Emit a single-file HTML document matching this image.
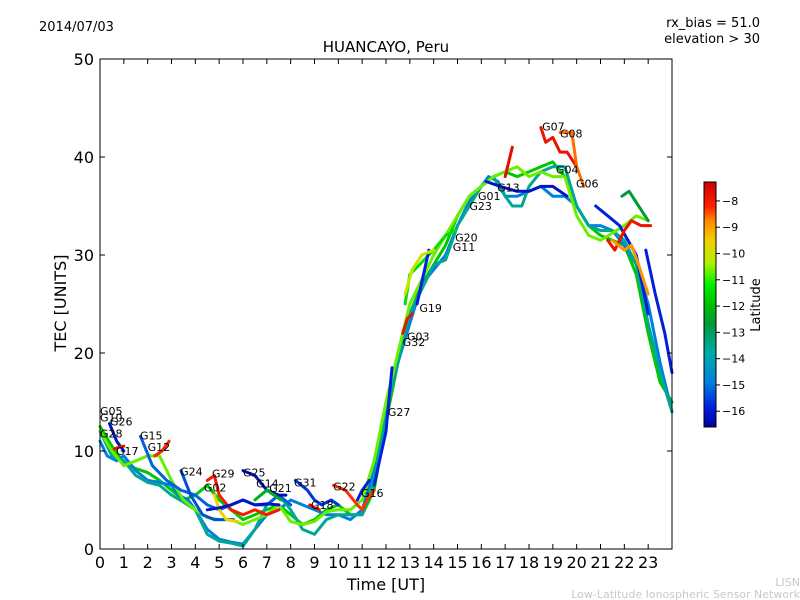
<!DOCTYPE html>
<html><head><meta charset="utf-8"><style>
body{margin:0;background:#fff;}
svg{display:block;font-family:"DejaVu Sans","Liberation Sans",sans-serif;}
</style></head><body>
<svg id="chart" width="800" height="600" viewBox="0 0 800 600">
<rect width="800" height="600" fill="#fff"/>
<text x="39" y="31" font-size="13">2014/07/03</text>
<text x="760" y="27" font-size="13" text-anchor="end">rx_bias = 51.0</text>
<text x="760" y="43" font-size="13" text-anchor="end">elevation &gt; 30</text>
<text x="386" y="52" font-size="15" text-anchor="middle">HUANCAYO, Peru</text>
<g id="plot"></g>
<g id="axes"></g>
<text x="66" y="303" font-size="16" text-anchor="middle" transform="rotate(-90 66 303)">TEC [UNITS]</text>
<text x="386" y="590" font-size="16" text-anchor="middle">Time [UT]</text>
<defs><linearGradient id="cb" x1="0" y1="0" x2="0" y2="1">
<stop offset="0" stop-color="#cc0000"/><stop offset="0.1" stop-color="#ff2000"/><stop offset="0.16" stop-color="#ff8c00"/><stop offset="0.24" stop-color="#f0d000"/><stop offset="0.33" stop-color="#b0f000"/><stop offset="0.42" stop-color="#00ee00"/><stop offset="0.5" stop-color="#00c000"/><stop offset="0.58" stop-color="#009a3a"/><stop offset="0.7" stop-color="#00aaaa"/><stop offset="0.82" stop-color="#0080dd"/><stop offset="0.92" stop-color="#0020dd"/><stop offset="1" stop-color="#000099"/>
</linearGradient></defs>
<rect x="704" y="182" width="12" height="245" fill="url(#cb)" stroke="#000" stroke-width="1"/>
<g id="cbticks"></g>
<text x="760" y="305" font-size="13" text-anchor="middle" transform="rotate(-90 760 305)">Latitude</text>
<text x="800" y="586" font-size="11" fill="#c8c8c8" text-anchor="end">LISN</text>
<text x="800" y="598" font-size="11" fill="#c8c8c8" text-anchor="end">Low-Latitude Ionospheric Sensor Network</text>
</svg>
<script>
const seriesLat=[-12,-15,-13.8,-11,-16.2,-8,-15.3,-8.5,-15.5,-8.3,-10,-16.3,-16.2,-15.8,-8,-8.6,-16,-16,-11.5,-16,-8,-7.8,-8,-9,-16.2,-16,-16,-13,-8,-9.3,-12.5,-10.5];
const seriesHours=[
[0,0.5,1,1.5,2,2.5,3,3.5,4,4.5,5,5.5,6,6.5,7,7.5,8,8.5,9,9.5,10,10.5,11,11.5,12,12.5,13,13.5,14,14.5,15,15.5,16,16.5,17,17.5,18,18.5,19,19.5,20,20.5,21,21.5,22,22.5,23,23.5,24],
[0,0.3,0.7,1,1.5,2,2.5,3,3.3,3.7,4,4.5,5,5.5,6,6.5,7,7.5,8,8.5,9,9.5,10,10.5,11,11.5,12,12.5,13,13.5,14,14.5,15,15.5,16,16.3,16.7,17,17.5,18,18.5,19,19.5,20,20.5,21,21.5,22,22.5,23,23.5,24],
[0,0.5,1,1.5,2,2.5,3,3.5,4,4.5,5,5.5,6,6.5,7,7.5,8,8.5,9,9.5,10,10.5,11,11.5,12,13,14,14.5,15,16,16.5,17,17.3,17.7,18,18.5,19,19.5,20,20.5,21,21.5,22,22.5,23,23.5,24],
[0,0.5,1,1.5,2,2.5,3,3.5,4,4.5,5,5.5,6,6.5,7,7.5,8,8.5,9,9.5,10,10.5,11,11.5,12,13,13.5,14,15,15.5,16,16.5,17,17.5,18,18.5,19,19.5,20,20.5,21,22,22.5,23],
[0.4,0.7,1],
[0.6,0.8,1],
[1.7,2.2,2.8,3.4,4,4.5,5,5.5,6,6.5,7,7.5,8],
[2.3,2.6,2.9],
[3.4,3.8,4.3,4.8,5.2,5.6],
[4.5,4.8,5,5.5,6,6.5,7,7.5],
[4.8,5,5.3,5.8],
[6,6.5,7,7.5,7.8],
[4.5,5,5.5,6,6.5,7,7.5],
[8.2,8.7,9,9.3,9.7,10],
[8.8,9.2],
[9.8,10.3,10.8,11,11.2,11.5],
[10.8,11,11.3],
[11.5,12,12.25],
[12.8,13,13.4,13.8,14,14.5,14.9],
[13.3,13.8],
[12.7,12.9,13.1],
[17,17.3],
[18.5,18.7,19,19.3,19.6,20],
[19.3,19.8,20,20.3],
[16.2,16.8,17.5,18,18.5,19,19.6],
[20.8,21.3,21.8,22.5,23],
[22.9,23.3,23.7,24],
[21.9,22.2,22.6,23],
[21.3,21.6,22,22.3,22.7,23.1],
[21.5,22,22.3,22.6,23],
[6.5,7,7.3,7.6],
[12.8,13.1,13.5,14]
];
const seriesTec=[
[12.5,10.5,8.8,8.2,7.8,7,6,5,5.5,6.5,5,4,3,3.5,4,4.5,3.5,2.5,3,4,4.5,3.5,3.5,6,13,19,24,27,29,31,34,36,37,38,38.5,38,38.5,39,39.5,38,35,33,32,31.5,31,28,22,17,15],
[11,9.5,9,9.5,8,7,6.8,6.5,5.5,5,4,2,1,0.7,0.5,2,3.5,4,5,4.5,4,3.5,3.5,3,4,8,14,19,23,27,28.5,30,33,35.5,37,38,37.5,36,36,36.5,37,36,36,35,33,33,32.5,31,29,25,19,14],
[12,9.5,9,7.5,6.8,6.5,5.5,4.8,4,1.5,0.8,0.6,0.3,2,4.5,5.5,4,2,1.5,3,3.5,3.5,3.5,7,14,24,29,29.5,33,37,38,36,35,35,37,38.5,39,39,35,33,32.5,32.5,31.5,29,23,18,14],
[12,10,8.5,9,9.5,9.5,7,5,4,3.2,3,3,2.5,3,3.5,4.5,2.8,2.5,2.8,3.8,4,4,5,9,15,25,27.5,30,34,36,37,38,38.5,39,38,38.5,38,38,34,32,31.5,33,34,33.5],
[12.8,11,10],
[10.2,10.4,10.5],
[11.5,8.5,7,6,5.5,4.5,4,4.5,5,4.5,4.5,5.5,4.5],
[9.5,10,11],
[8,5.5,3.5,3,3,3],
[7,7.5,5.5,4,3.5,4,3.5,4],
[5.5,4,3,2.8],
[8,7.5,6,5.5,5.5],
[4,4.2,4.5,5,4.5,4.6,4.5],
[7,6,5,4.5,5,4.5],
[4.5,4],
[6.5,6,4.5,4,5,6],
[5,6,7],
[6.5,12,18.5],
[25,28,29,30,30.5,32,32.5],
[25,30.5],
[22,23.5,24],
[38,41],
[43,41.5,42,40.5,40.5,39],
[42.5,42.5,39,37],
[37.5,37,36.5,36.5,37,37,36],
[35,34,33,30,24],
[30.5,26,22,18],
[36,36.5,35,33.5],
[31.5,30.5,32.5,33.5,33,33],
[31.5,30.5,31,29,26],
[5,6,5.5,5],
[26,28.5,30,30.5]
];
const labelNames=["G05","G10","G26","G28","G17","G15","G12","G24","G29","G02","G25","G14","G21","G31","G18","G22","G16","G27","G32","G03","G19","G11","G20","G23","G01","G13","G07","G08","G04","G06"];
const labelHours=[0,0,0.42,0,0.67,1.68,2.0,3.36,4.7,4.36,6.0,6.55,7.1,8.14,8.85,9.78,10.95,12.08,12.7,12.88,13.4,14.8,14.9,15.5,15.86,16.66,18.55,19.3,19.13,19.97];
const labelTec=[14.1,13.4,13.0,11.8,10.0,11.6,10.4,7.9,7.7,6.3,7.8,6.7,6.2,6.8,4.5,6.4,5.7,14.0,21.1,21.7,24.6,30.8,31.8,35,36,36.9,43.1,42.4,38.7,37.3];
const yTicks=[0,10,20,30,40,50];
const xTicks=[0,1,2,3,4,5,6,7,8,9,10,11,12,13,14,15,16,17,18,19,20,21,22,23];
const cbTicks=[-8,-9,-10,-11,-12,-13,-14,-15,-16];

const X0=100,X1=672,Y0=549,Y1=59;
const xs=h=>X0+(h/24)*(X1-X0);
const ys=v=>Y0-(v/50)*(Y0-Y1);
const cbY=l=>182+(-7.28-l)/(9.32)*245;
const stops=[[-16.6,[0,0,153]],[-16,[0,32,221]],[-15,[0,128,221]],[-14,[0,170,170]],[-13,[0,154,58]],[-12,[0,200,0]],[-11.3,[0,238,0]],[-10.8,[176,240,0]],[-10,[240,208,0]],[-9.2,[255,140,0]],[-8.5,[255,32,0]],[-7.28,[204,0,0]]];
function col(l){for(let i=1;i<stops.length;i++){if(l<=stops[i][0]){const a=stops[i-1],b=stops[i];const t=(l-a[0])/(b[0]-a[0]);const c=a[1].map((v,k)=>Math.round(v+(b[1][k]-v)*t));return `rgb(${c})`;}}return 'rgb(204,0,0)';}
const NS='http://www.w3.org/2000/svg';
function mk(t,a,p){const e=document.createElementNS(NS,t);for(const k in a)e.setAttribute(k,a[k]);p.appendChild(e);return e;}
const plot=document.getElementById('plot'),axes=document.getElementById('axes'),cbt=document.getElementById('cbticks');
seriesTec.forEach((vals,i)=>{
  const d=vals.map((v,j)=>(j?'L':'M')+xs(seriesHours[i][j]).toFixed(1)+','+ys(v).toFixed(1)).join('');
  const p=mk('path',{d:d,fill:'none',stroke:col(seriesLat[i]),'stroke-width':3,'stroke-linejoin':'round','stroke-linecap':'round'},plot);
  
  
});
labelNames.forEach((n,i)=>{
  const t=mk('text',{x:xs(labelHours[i]),y:ys(labelTec[i])+4,'font-size':11},plot);
  t.textContent=n;
  
  
});
const fr=mk('rect',{x:X0,y:Y1,width:X1-X0,height:Y0-Y1,fill:'none',stroke:'#000','stroke-width':1},axes);


yTicks.forEach(v=>{
  const y=ys(v);
  mk('line',{x1:X0,x2:X0+5,y1:y,y2:y,stroke:'#000'},axes);
  mk('line',{x1:X1,x2:X1-5,y1:y,y2:y,stroke:'#000'},axes);
  const t=mk('text',{x:X0-6,y:y+6,'font-size':16,'text-anchor':'end'},axes);
  t.textContent=v;
  
  
});
xTicks.forEach(h=>{
  const x=xs(h);
  mk('line',{x1:x,x2:x,y1:Y0,y2:Y0-5,stroke:'#000'},axes);
  mk('line',{x1:x,x2:x,y1:Y1,y2:Y1+5,stroke:'#000'},axes);
  const t=mk('text',{x:x,y:Y0+19,'font-size':16,'text-anchor':'middle'},axes);
  t.textContent=h;
  
  
});
cbTicks.forEach(l=>{
  const y=cbY(l);
  mk('line',{x1:716,x2:720,y1:y,y2:y,stroke:'#000'},cbt);
  const t=mk('text',{x:722,y:y+4,'font-size':11},cbt);
  t.textContent='\u2212'+Math.abs(l);
  
  
});
</script>
</body></html>
